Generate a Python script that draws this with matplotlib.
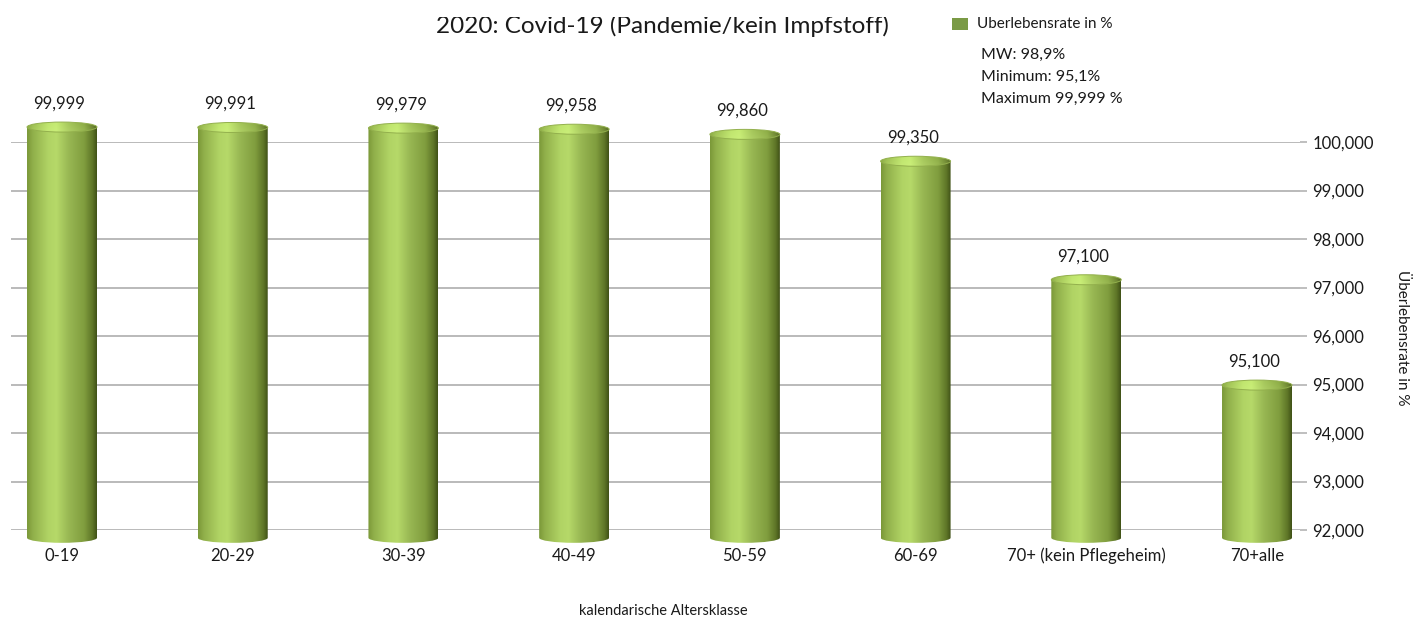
import numpy as np
import matplotlib
matplotlib.use("Agg")
import matplotlib.pyplot as plt
from matplotlib.patches import Rectangle, Ellipse, PathPatch
from matplotlib.path import Path
from matplotlib.colors import to_rgb
from matplotlib.ticker import FuncFormatter, FixedLocator

plt.rcParams['font.family'] = ['Lato', 'DejaVu Sans']

# ---------------- data ----------------
categories = ["0-19", "20-29", "30-39", "40-49", "50-59", "60-69",
              "70+ (kein Pflegeheim)", "70+alle"]
survival = [99.999, 99.991, 99.979, 99.958, 99.860, 99.350, 97.100, 95.100]
value_labels = ["99,999", "99,991", "99,979", "99,958", "99,860", "99,350",
                "97,100", "95,100"]
y_ticks = [92, 93, 94, 95, 96, 97, 98, 99, 100]
title = "2020: Covid-19 (Pandemie/kein Impfstoff)"
legend_label = "Uberlebensrate in %"
stats_lines = ["MW: 98,9%", "Minimum: 95,1%", "Maximum 99,999 %"]
x_label = "kalendarische Altersklasse"
y_label = "Überlebensrate in %"

W, H = 1421, 619
fig = plt.figure(figsize=(W / 100, H / 100), dpi=100)
fig.patch.set_facecolor("white")


def px_rect(left, top, right, bottom):
    return [left / W, 1 - bottom / H, (right - left) / W, (bottom - top) / H]


XL = (-0.3, 7.25)
ax_left, ax_right = 10.8, 1299.7

# back wall axes: gridlines + right tick labels
axb = fig.add_axes(px_rect(ax_left, 142, ax_right, 530))
axb.set_xlim(*XL)
axb.set_ylim(92, 100)
for s in axb.spines.values():
    s.set_visible(False)
axb.set_xticks([])
axb.yaxis.set_major_locator(FixedLocator(y_ticks))
axb.yaxis.set_major_formatter(FuncFormatter(lambda v, p: f"{v:.3f}".replace(".", ",")))
axb.yaxis.tick_right()
axb.tick_params(axis="y", length=5, width=1.2, color="#b4b4b4", pad=4,
                labelsize=12, labelcolor="#1a1a1a")
for t in y_ticks:
    axb.axhline(t, color="#b4b4b4", lw=1.3, zorder=0)

# front axes: bars (perspective front plane: 100 -> 127 px, 52.67 px/unit)
PPU = 52.67
Y0, Y1 = 91.9, 100.4
top_px = 127 - (Y1 - 100) * PPU
bot_px = 127 + (100 - Y0) * PPU
ax = fig.add_axes(px_rect(ax_left, top_px, ax_right, bot_px))
ax.set_zorder(2)
ax.patch.set_alpha(0)
ax.set_xlim(*XL)
ax.set_ylim(Y0, Y1)
for s in ax.spines.values():
    s.set_visible(False)
ax.set_yticks([])
x = np.arange(len(categories))
ax.set_xticks(x)
ax.set_xticklabels(categories, fontsize=12, color="#1a1a1a")
ax.tick_params(axis="x", length=0, pad=-4.3)

base = 92.2
bw = 0.41
bars = ax.bar(x, np.array(survival) - base, bottom=base, width=bw,
              facecolor="none", edgecolor="none")

# horizontal colour profile of the cylinder
stops = [(0.00, "#7a9838"), (0.08, "#90af4a"), (0.30, "#b0d364"),
         (0.42, "#b6d969"), (0.60, "#98b753"), (0.82, "#809d3e"),
         (0.94, "#5e7527"), (1.00, "#405117")]
N = 200
ts = np.linspace(0, 1, N)
pos = [s[0] for s in stops]
cols = np.array([to_rgb(s[1]) for s in stops])
prof = np.stack([np.interp(ts, pos, cols[:, k]) for k in range(3)], axis=-1)
body_img = prof[np.newaxis, :, :]

ry = 5.0 / PPU
kappa = 0.5523

for b in bars:
    x0 = b.get_x()
    x1 = x0 + b.get_width()
    xc = (x0 + x1) / 2
    rx = (x1 - x0) / 2
    top = b.get_y() + b.get_height()
    bot = b.get_y()
    verts = [(x0, top), (x0, bot),
             (x0, bot - kappa * ry), (xc - kappa * rx, bot - ry), (xc, bot - ry),
             (xc + kappa * rx, bot - ry), (x1, bot - kappa * ry), (x1, bot),
             (x1, top), (x0, top)]
    codes = [Path.MOVETO, Path.LINETO,
             Path.CURVE4, Path.CURVE4, Path.CURVE4,
             Path.CURVE4, Path.CURVE4, Path.CURVE4,
             Path.LINETO, Path.CLOSEPOLY]
    body = PathPatch(Path(verts, codes), facecolor="none", edgecolor="none")
    ax.add_patch(body)
    im = ax.imshow(body_img, extent=(x0, x1, bot - ry, top), aspect="auto",
                   zorder=2, interpolation="bilinear")
    im.set_clip_path(body)

    # top cap
    cap = Ellipse((xc, top), 2 * rx, 2 * ry, facecolor="none", edgecolor="none")
    ax.add_patch(cap)
    vy = np.linspace(0, 1, 40)[:, None, None]
    w = 0.85 + 0.15 * vy
    cap_img = prof[np.newaxis, :, :] * w + (1 - w) * np.array([0.85, 0.95, 0.6])
    cap_img = np.clip(cap_img * 1.08, 0, 1)
    im2 = ax.imshow(cap_img, extent=(x0, x1, top - ry, top + ry), aspect="auto",
                    zorder=3, interpolation="bilinear", origin="lower")
    im2.set_clip_path(cap)
    rim = Ellipse((xc, top), 2 * rx, 2 * ry, facecolor="none",
                  edgecolor="#93b04d", lw=0.7, zorder=4)
    ax.add_patch(rim)

ax.set_xlim(*XL)
ax.set_ylim(Y0, Y1)

for xi, v, lab in zip(x, survival, value_labels):
    ax.annotate(lab, (xi, v), xytext=(-2, 17), textcoords="offset points",
                ha="center", va="center", fontsize=12, color="#1a1a1a",
                annotation_clip=False)

# title (top slightly cut, as in the reference)
fig.text(662 / W, 1 - 33 / H, title, ha="center", va="baseline",
         fontsize=17.5, color="#1a1a1a")
fig.patches.append(Rectangle((0, 1 - 17 / H), 1, 17 / H, transform=fig.transFigure,
                             facecolor="white", edgecolor="none", zorder=10))

# legend
fig.patches.append(Rectangle((952 / W, 1 - 30 / H), 16 / W, 12 / H,
                             transform=fig.transFigure, facecolor="#7a9a45",
                             edgecolor="none"))
fig.text(977 / W, 1 - 24 / H, legend_label, ha="left", va="center",
         fontsize=11, color="#1a1a1a")
for i, line in enumerate(stats_lines):
    fig.text(981 / W, 1 - (55 + i * 22) / H, line, ha="left", va="center",
             fontsize=11.5, color="#1a1a1a")

# axis labels
fig.text(663 / W, 1 - 611 / H, x_label, ha="center", va="center",
         fontsize=10.5, color="#1a1a1a")
fig.text(1402 / W, 1 - 338 / H, y_label, ha="center", va="center",
         rotation=270, fontsize=11, color="#1a1a1a")

fig.savefig("out.png", dpi=100, facecolor="white")
